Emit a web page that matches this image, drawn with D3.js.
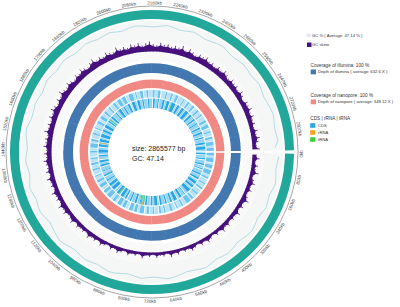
<!DOCTYPE html>
<html>
<head>
<meta charset="utf-8">
<script src="https://cdn.jsdelivr.net/npm/d3@7"></script>
<style>
body { margin: 0; background: #fff; }
svg { display: block; font-family: "Liberation Sans", Arial, sans-serif; }
</style>
</head>
<body>
<script>
var genomeSize = 2865577;
var gcAverage = 47.14;

// tick labels on the outer ring, in kb
var tickKb = [0, 80, 160, 240, 320, 400, 480, 560, 640, 720, 800, 880, 960, 1040, 1120, 1200, 1280, 1360,
    1440, 1520, 1600, 1680, 1760, 1840, 1920, 2000, 2080, 2160, 2240, 2320, 2400, 2480, 2560, 2640, 2720, 2800];

// GC content (%) in windows along the genome
var gcContent = [
    47.8, 47.2, 46.9, 47.5, 48.1, 47.6, 46.8, 47.3, 47.9, 47.1,
    46.6, 47.4, 48.0, 47.7, 46.9, 46.5, 47.2, 47.8, 47.3, 46.8,
    47.5, 48.2, 47.6, 47.0, 46.7, 47.3, 47.9, 48.3, 47.5, 46.9,
    47.2, 47.8, 47.1, 46.4, 46.9, 47.6, 48.0, 47.4, 46.8, 47.2,
    47.7, 47.3, 46.6, 47.0, 47.9, 48.4, 47.6, 46.9, 46.3, 47.1,
    47.8, 47.5, 46.8, 47.4, 48.1, 47.2, 46.5, 46.9, 47.7, 47.3,
    46.7, 47.1, 47.9, 48.2, 47.4, 46.8, 47.0, 47.6, 47.2, 46.6,
    47.3, 47.9, 47.5, 46.9, 47.4, 48.0, 47.3, 46.7, 47.1, 47.8,
    47.4, 46.8, 47.2, 47.7, 47.0, 46.5, 47.3, 47.9, 47.6, 47.1,
    46.9, 47.5, 48.1, 47.4, 46.8, 47.2, 47.8, 47.3, 46.6, 47.0,
    47.6, 48.0, 47.2, 46.7, 47.1, 47.7, 47.4, 46.9, 47.3, 47.8,
    47.2, 46.6, 47.0, 47.5, 47.9, 47.3, 46.8, 47.1, 47.6, 45.9
];

// GC skew in windows along the genome
var gcSkew = [
    0.05, 0.08, 0.04, 0.07, 0.05, 0.09, 0.04, 0.06, 0.08, 0.05,
    0.07, 0.04, 0.06, 0.09, 0.05, 0.07, 0.04, 0.08, 0.05, 0.06,
    0.04, 0.07, 0.05, 0.08, 0.04, 0.06, 0.03, 0.05, 0.07, 0.04,
    0.06, 0.03, 0.05, 0.07, 0.04, 0.05, 0.03, 0.06, 0.04, 0.07,
    0.03, 0.05, 0.04, 0.06, 0.03, 0.05, 0.04, 0.07, 0.03, 0.05,
    0.04, 0.06, 0.03, 0.05, 0.07, 0.04, 0.06, 0.03, 0.05, 0.07,
    0.04, 0.06, 0.05, 0.08, 0.04, 0.06, 0.05, 0.07, 0.04, 0.08,
    0.06, 0.05, 0.08, 0.06, 0.09, 0.05, 0.07, 0.06, 0.09, 0.05,
    0.07, 0.06, 0.09, 0.05, 0.08, 0.06, 0.07, 0.09, 0.06, 0.08,
    0.06, 0.09, 0.07, 0.08, 0.06, 0.10, 0.07, 0.08, 0.06, 0.09,
    0.07, 0.10, 0.08, 0.06, 0.09, 0.07, 0.11, 0.08, 0.07, 0.10,
    0.08, 0.06, 0.09, 0.07, 0.10, 0.08, 0.06, 0.09, 0.11, 0.07,
    0.09, 0.07, 0.10, 0.08, 0.07, 0.11, 0.08, 0.09, 0.07, 0.10,
    0.08, 0.10, 0.07, 0.09, 0.11, 0.08, 0.07, 0.10, 0.08, 0.09,
    0.07, 0.09, 0.08, 0.11, 0.07, 0.10, 0.08, 0.06, 0.09, 0.08,
    0.10, 0.07, 0.08, 0.06, 0.09, 0.07, 0.10, 0.08, 0.06, 0.09,
    0.07, 0.08, 0.06, 0.09, 0.07, 0.05, 0.08, 0.07, 0.09, 0.06,
    0.08, 0.06, 0.07, 0.05, 0.08, 0.06, 0.09, 0.07, 0.05, 0.08
];

// sequencing depth in 80kb windows
var illuminaDepth = [628, 635, 631, 640, 626, 633, 637, 629, 632, 636, 624, 630, 638, 634, 627, 633, 631, 639,
    625, 632, 636, 630, 628, 634, 641, 629, 633, 627, 635, 631, 637, 626, 632, 634, 630, 633];
var nanoporeDepth = [344, 351, 347, 353, 342, 349, 346, 350, 345, 352, 348, 343, 350, 347, 354, 345, 349, 346,
    351, 344, 348, 352, 347, 343, 350, 346, 349, 353, 345, 348, 351, 344, 347, 350, 346, 349];

// CDS blocks per strand: block length, gap length (kb), repeated
var cdsPlus = [
    22, 4, 15, 0, 31, 6, 12, 2, 26, 0, 9, 5, 34, 3, 18, 0, 14, 7, 27, 2,
    11, 0, 23, 4, 16, 9, 30, 1, 13, 0, 25, 6, 19, 3, 8, 0, 36, 2, 21, 5,
    14, 0, 28, 3, 10, 8, 24, 1, 17, 0, 32, 4, 12, 2, 20, 0, 15, 6, 29, 3,
    9, 0, 26, 5, 18, 1, 13, 7, 33, 0, 16, 3, 22, 2, 11, 0, 27, 8, 19, 4,
    24, 0, 10, 3, 30, 6, 14, 1, 21, 0, 17, 5, 35, 2, 12, 0, 23, 9, 15, 3,
    28, 0, 13, 4, 19, 2, 26, 0, 9, 6, 31, 1, 16, 0, 22, 5, 18, 3, 25, 0,
    11, 7, 29, 2, 14, 0, 20, 4, 34, 3, 12, 0, 17, 6, 27, 1, 15, 0, 23, 8,
    10, 2, 32, 0, 19, 5, 13, 3, 26, 0, 21, 4, 16, 1, 30, 0, 12, 7, 24, 2,
    18, 0, 14, 5, 28, 3, 11, 0, 25, 6, 20, 2, 33, 0, 15, 4, 9, 1, 27, 0,
    22, 7, 17, 3, 13, 0, 29, 5, 16, 2, 24, 0, 19, 8, 31, 1, 12, 0, 26, 3,
    14, 4, 21, 0, 18, 6, 35, 2, 10, 0, 23, 5, 17, 3, 28, 0, 15, 7, 20, 2,
    16, 3, 25, 0, 12, 6, 30, 2, 19, 4, 14, 0, 27, 5, 21, 1, 11, 0, 24, 7,
    18, 2, 13, 5, 29, 0, 15, 3, 22, 6, 10, 0, 26, 4, 17, 1, 31, 3, 20, 0
];
var cdsMinus = [
    16, 6, 24, 2, 11, 9, 28, 0, 14, 5, 19, 3, 9, 7, 31, 1, 13, 4, 22, 0,
    17, 8, 10, 2, 26, 5, 15, 0, 20, 6, 12, 3, 33, 1, 18, 7, 8, 0, 25, 4,
    21, 2, 14, 9, 29, 0, 11, 5, 17, 3, 23, 6, 13, 1, 30, 0, 16, 8, 10, 4,
    27, 2, 19, 0, 12, 7, 24, 3, 15, 5, 34, 1, 9, 0, 20, 6, 18, 2, 26, 4,
    13, 0, 22, 9, 16, 3, 11, 1, 28, 6, 14, 0, 21, 4, 17, 8, 32, 2, 10, 0,
    25, 5, 19, 3, 12, 0, 27, 7, 15, 2, 23, 4, 9, 1, 30, 6, 18, 0, 14, 3,
    20, 8, 26, 1, 11, 5, 16, 0, 29, 3, 13, 7, 22, 2, 17, 4, 24, 0, 10, 6,
    31, 3, 15, 1, 19, 0, 12, 8, 27, 2, 21, 5, 14, 0, 25, 4, 18, 3, 33, 1,
    11, 7, 16, 0, 23, 5, 20, 2, 13, 4, 28, 0, 17, 9, 9, 3, 26, 1, 15, 6,
    22, 0, 19, 4, 12, 2, 30, 5, 14, 0, 24, 8, 16, 3, 21, 1, 10, 6, 27, 0,
    18, 4, 13, 2, 25, 7, 15, 0, 32, 3, 11, 5, 20, 1, 17, 6, 23, 0, 14, 4,
    29, 2, 12, 8, 19, 0, 26, 3, 16, 5, 22, 1, 10, 0, 28, 6, 15, 2, 21, 4,
    17, 0, 24, 5, 13, 3, 30, 1, 18, 7, 11, 0, 27, 4, 14, 2, 23, 6, 19, 3
];

// rRNA and tRNA positions (kb)
var rRNAkb = [796, 1512];
var tRNAkb = [788, 809, 1020, 1733, 2330];

var width = 400, height = 307;
var cx = 152, cy = 152;

var svg = d3.select("body").append("svg")
    .attr("width", width)
    .attr("height", height);

var g = svg.append("g").attr("transform", "translate(" + cx + "," + cy + ")");

var gap = 0.012; // small white gap at the origin
var angle = d3.scaleLinear().domain([0, genomeSize])
    .range([Math.PI / 2 + gap, Math.PI / 2 + 2 * Math.PI - gap]); // 0 at 3 o'clock, clockwise

var arc = d3.arc();

function ring(r0, r1, fill) { // full annulus
    g.append("path")
        .attr("d", arc({innerRadius: r0, outerRadius: r1, startAngle: angle(0), endAngle: angle(genomeSize)}))
        .attr("fill", fill);
}

// outer scale line + labels
g.append("circle").attr("r", 146).attr("fill", "none").attr("stroke", "#6d6d6d").attr("stroke-width", 0.6);

tickKb.forEach(function(kb) {
    var a = angle(kb * 1000);
    var deg = a * 180 / Math.PI;
    var nd = ((deg % 360) + 360) % 360;
    var flip = nd > 90 && nd < 270; // bottom half, keep it readable
    var r = 147.5;
    var x = r * Math.sin(a), y = -r * Math.cos(a);
    g.append("text")
        .attr("transform", "translate(" + x + "," + y + ") rotate(" + (flip ? deg - 180 : deg) + ")")
        .attr("text-anchor", "middle")
        .attr("dy", flip ? "0.72em" : "0")
        .attr("font-size", "4.5px")
        .attr("fill", "#444")
        .text(kb + "kb");
});

// backbone
ring(133, 142, "#22a89a");

// GC content track
ring(113, 131, "#f5f6f6");
var gcScale = d3.scaleLinear().domain([40, 50]).range([112, 131]);
var gcStep = genomeSize / gcContent.length;
var gcLine = d3.lineRadial()
    .angle(function(d, i) { return angle(i * gcStep + gcStep / 2); })
    .radius(function(d) { return gcScale(d); });
g.append("path").datum(gcContent)
    .attr("d", gcLine)
    .attr("fill", "none")
    .attr("stroke", "#a3d4dd")
    .attr("stroke-width", 0.8);

// GC skew track
ring(92, 113, "#f9f9f9");
g.append("circle").attr("r", 113).attr("fill", "none").attr("stroke", "#ededed").attr("stroke-width", 0.4);
var skewBase = 100.5;
var skewScale = d3.scaleLinear().domain([0, 0.12]).range([0, 11]);
var skewStep = genomeSize / gcSkew.length;
var skewArea = d3.areaRadial()
    .angle(function(d, i) { return angle(i * skewStep + skewStep / 2); })
    .innerRadius(skewBase)
    .outerRadius(function(d) { return skewBase + skewScale(d) * 0.72; })
    .curve(d3.curveLinear);
g.append("path").datum(gcSkew)
    .attr("d", skewArea)
    .attr("fill", "#46117c");
// spikes
g.append("g").selectAll("line").data(gcSkew).enter().append("line")
    .each(function(d, i) {
        var a = angle(i * skewStep + skewStep / 2);
        var r1 = skewBase + skewScale(d);
        d3.select(this)
            .attr("x1", skewBase * Math.sin(a)).attr("y1", -skewBase * Math.cos(a))
            .attr("x2", r1 * Math.sin(a)).attr("y2", -r1 * Math.cos(a));
    })
    .attr("stroke", "#46117c")
    .attr("stroke-width", 0.8);

// depth tracks
function depthTrack(data, r0, maxDepth, thick, fill) {
    var s = d3.scaleLinear().domain([0, maxDepth]).range([0, thick]);
    var step = genomeSize / data.length;
    g.append("g").selectAll("path").data(data).enter().append("path")
        .attr("d", function(d, i) {
            return arc({innerRadius: r0, outerRadius: r0 + s(d),
                startAngle: angle(i * step), endAngle: angle(Math.min((i + 1) * step + 2000, genomeSize))});
        })
        .attr("fill", fill);
}
depthTrack(illuminaDepth, 79, 645, 10, "#4277b0");
depthTrack(nanoporeDepth, 64, 352, 8.5, "#f08983");

// CDS blocks
function blocks(arr) {
    var out = [], pos = 0;
    for (var i = 0; i < arr.length; i += 2) {
        var s = pos, e = pos + arr[i] * 1000;
        if (s >= genomeSize) break;
        out.push([s, Math.min(e, genomeSize)]);
        pos = e + arr[i + 1] * 1000;
    }
    return out;
}
function cdsRow(arr, r0, r1, c1, c2) {
    g.append("g").selectAll("path").data(blocks(arr)).enter().append("path")
        .attr("d", function(d) {
            return arc({innerRadius: r0, outerRadius: r1, startAngle: angle(d[0]), endAngle: angle(d[1])});
        })
        .attr("fill", function(d, i) { return i % 2 ? c2 : c1; });
}
cdsRow(cdsPlus, 54.5, 62, "#6cc3ee", "#b8e3f7");
cdsRow(cdsMinus, 44, 53.5, "#2aa6e5", "#93d3f3");

function featureMarks(list, fill) {
    g.append("g").selectAll("path").data(list).enter().append("path")
        .attr("d", function(kb) {
            var a = angle(kb * 1000);
            return arc({innerRadius: 44, outerRadius: 53.5, startAngle: a - 0.006, endAngle: a + 0.006});
        })
        .attr("fill", fill);
}
featureMarks(rRNAkb, "#f5a31a");
featureMarks(tRNAkb, "#3ccf3c");

// center text
svg.append("text").attr("x", 132).attr("y", 151).attr("font-size", "7px").attr("fill", "#222")
    .text("size: " + genomeSize + " bp");
svg.append("text").attr("x", 132).attr("y", 161).attr("font-size", "7px").attr("fill", "#222")
    .text("GC: " + gcAverage);

// legend
var legend = svg.append("g");
function swatch(x, y, w, h, fill) {
    legend.append("rect").attr("x", x).attr("y", y).attr("width", w).attr("height", h).attr("fill", fill);
}
function label(x, y, size, txt) {
    legend.append("text").attr("x", x).attr("y", y).attr("font-size", size).attr("fill", "#333").text(txt);
}
swatch(306.5, 33.5, 4.5, 3.5, "#e4e8f2");
label(312, 37, "4.2px", "GC % ( Average: " + gcAverage + " % )");
swatch(307, 42.5, 4.5, 4.5, "#46117c");
label(312, 46.3, "4.2px", "GC skew");

label(310.5, 66.5, "4.7px", "Coverage of  illumina: 100 %");
swatch(310.7, 69.5, 5.3, 4.8, "#4277b0");
label(318, 73.3, "4.2px", "Depth of illumina ( average: 632.6 X )");

label(310.5, 96.5, "4.7px", "Coverage of nanopore: 100 %");
swatch(310.7, 99.5, 5.3, 4.8, "#f08983");
label(318, 103.3, "4.2px", "Depth of nanopore ( average: 348.12 X )");

label(310.3, 120, "4.7px", "CDS | rRNA | tRNA");
swatch(310.2, 123.2, 5.1, 4.6, "#27a6e4");
label(318, 127, "4.2px", "CDS");
swatch(310.2, 130.2, 5.1, 4.6, "#f5a31a");
label(318, 134, "4.2px", "rRNA");
swatch(310.2, 137.2, 5.1, 4.6, "#3ccf3c");
label(318, 141, "4.2px", "tRNA");
</script>
</body>
</html>
